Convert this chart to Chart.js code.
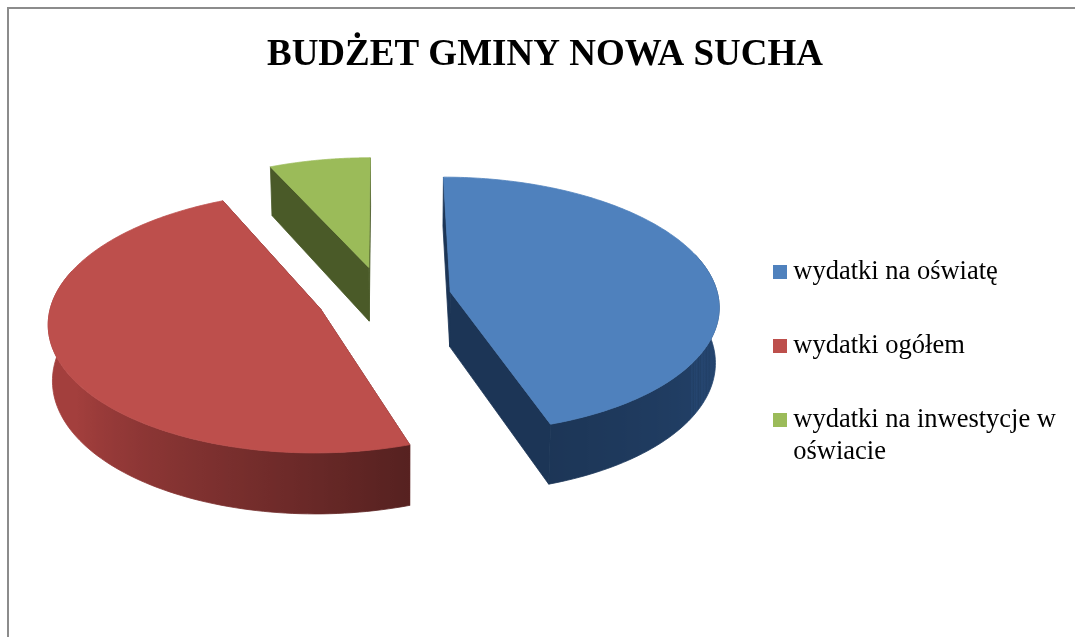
<!DOCTYPE html>
<html><head><meta charset="utf-8">
<style>
html,body{margin:0;padding:0;background:#fff;overflow:hidden}
#frame{position:absolute;left:7px;top:7px;right:0;bottom:0;border-left:2px solid #8c8c8c;border-top:2px solid #8c8c8c;pointer-events:none}
canvas{position:absolute;left:0;top:0}
</style>
<script src="https://cdn.jsdelivr.net/npm/chart.js@4/dist/chart.umd.js"></script>
</head><body>
<canvas id="c" width="1075" height="637"></canvas><div id="frame"></div>
<script>
const titleText = 'BUDŻET GMINY NOWA SUCHA';
const categories = ['wydatki na oświatę', 'wydatki ogółem', 'wydatki na inwestycje w oświacie'];
const legendLines = [['wydatki na oświatę'], ['wydatki ogółem'], ['wydatki na inwestycje w', 'oświacie']];
const values = [44.8, 48.3, 6.9];
const faceColors = ['#4f81bd', '#bd4f4c', '#9bbb59'];
const wallBase = ['#3f77c0', '#c04a48', '#8fa858'];
const radialWall = ['#1c3556', '#5a1f1e', '#4a5a28'];
const explode = [69, 66, 65];

const RX = 268, TILT = 0.48, PERSP = 0.1, DEPTH = 55, CONV = 0.012, ANCHOR_DX = 1.5, ANCHOR_DY = -68;

function swatch(color){
  const c = document.createElement('canvas'); c.width = 14; c.height = 14;
  const g = c.getContext('2d'); g.fillStyle = color; g.fillRect(0,0,14,14); return c;
}
function shade(hex, b){
  const n = parseInt(hex.slice(1),16);
  return 'rgb('+[(n>>16)&255,(n>>8)&255,n&255].map(v=>Math.round(v*b)).join(',')+')';
}
function brightness(a){
  const d = a*180/Math.PI;
  if (d<=72) return 0.58-0.13*Math.max(d,0)/72;
  return Math.min(0.85, 0.45+0.40*(d-72)/78);
}
const pie3d = {
  id:'pie3d',
  beforeDatasetsDraw(chart){
    const ctx = chart.ctx, arcs = chart.getDatasetMeta(0).data;
    arcs.forEach((arc,i)=>{
      const {x,y,startAngle:a0,endAngle:a1,outerRadius} = arc.getProps(['x','y','startAngle','endAngle','outerRadius'],true);
      const off = arc.options.offset, k = RX/outerRadius, mid=(a0+a1)/2;
      const ex = Math.cos(mid)*off, ey = Math.sin(mid)*off;
      const ax = x+ANCHOR_DX, ay = y+ANCHOR_DY;
      const P = (a,r,z)=>{
        const wx = Math.cos(a)*r*k+ex, wy = Math.sin(a)*r*k+ey;
        const s = 1+PERSP*wy/RX;
        let X = ax+wx*s, Y = ay+TILT*wy*s+DEPTH*s*z;
        X += (ax+20-X)*CONV*z;
        return [X,Y];
      };
      const poly = (pts,fill)=>{
        ctx.beginPath(); pts.forEach((p,j)=>j?ctx.lineTo(p[0],p[1]):ctx.moveTo(p[0],p[1])); ctx.closePath();
        ctx.fillStyle=fill; ctx.strokeStyle=fill; ctx.lineWidth=0.8; ctx.fill(); ctx.stroke();
      };
      ctx.save();
      const R = outerRadius, apex = [P(0,0,0),P(0,0,1)];
      poly([apex[0],P(a0,R,0),P(a0,R,1),apex[1]],radialWall[i]);
      poly([apex[0],P(a1,R,0),P(a1,R,1),apex[1]],radialWall[i]);
      const n = 120, angles=[];
      for(let j=0;j<=n;j++){const a=a0+j*(a1-a0)/n; if(Math.sin(a)>-0.3) angles.push(a);}
      if(angles.length>1){
        const tops=angles.map(a=>P(a,R,0)), bots=angles.map(a=>P(a,R,1));
        const xs=bots.map(p=>p[0]), xMin=Math.min(...xs), xMax=Math.max(...xs);
        const g=ctx.createLinearGradient(xMin,0,xMax,0);
        angles.forEach((a,j)=>g.addColorStop((xs[j]-xMin)/(xMax-xMin),shade(wallBase[i],brightness(a))));
        poly(tops.concat(bots.reverse()),g);
      }
      const top=[apex[0]], m=160;
      for(let j=0;j<=m;j++) top.push(P(a0+j*(a1-a0)/m,R,0));
      poly(top,arc.options.backgroundColor);
      ctx.restore();
    });
    return false;
  }
};
new Chart(document.getElementById('c'),{
  type:'pie',
  plugins:[pie3d],
  data:{labels:categories,datasets:[{data:values,backgroundColor:faceColors,borderWidth:0,offset:explode}]},
  options:{
    responsive:false,animation:false,
    layout:{padding:{left:24,right:9,top:0,bottom:-92}},
    plugins:{
      tooltip:{enabled:false},
      title:{display:true,text:titleText,color:'#000',font:{family:'"Liberation Serif"',size:37,weight:'bold',lineHeight:1.2},padding:{top:33,bottom:16}},
      legend:{position:'right',labels:{
        font:{family:'"Liberation Serif"',size:26.5,lineHeight:32/26.5},color:'#111',padding:42,
        usePointStyle:true,pointStyleWidth:0.1,
        generateLabels:()=>legendLines.map((t,i)=>({text:t,fillStyle:faceColors[i],strokeStyle:faceColors[i],lineWidth:0,pointStyle:swatch(faceColors[i]),index:i,hidden:false}))
      }}
    }
  }
});
</script>
</body></html>
